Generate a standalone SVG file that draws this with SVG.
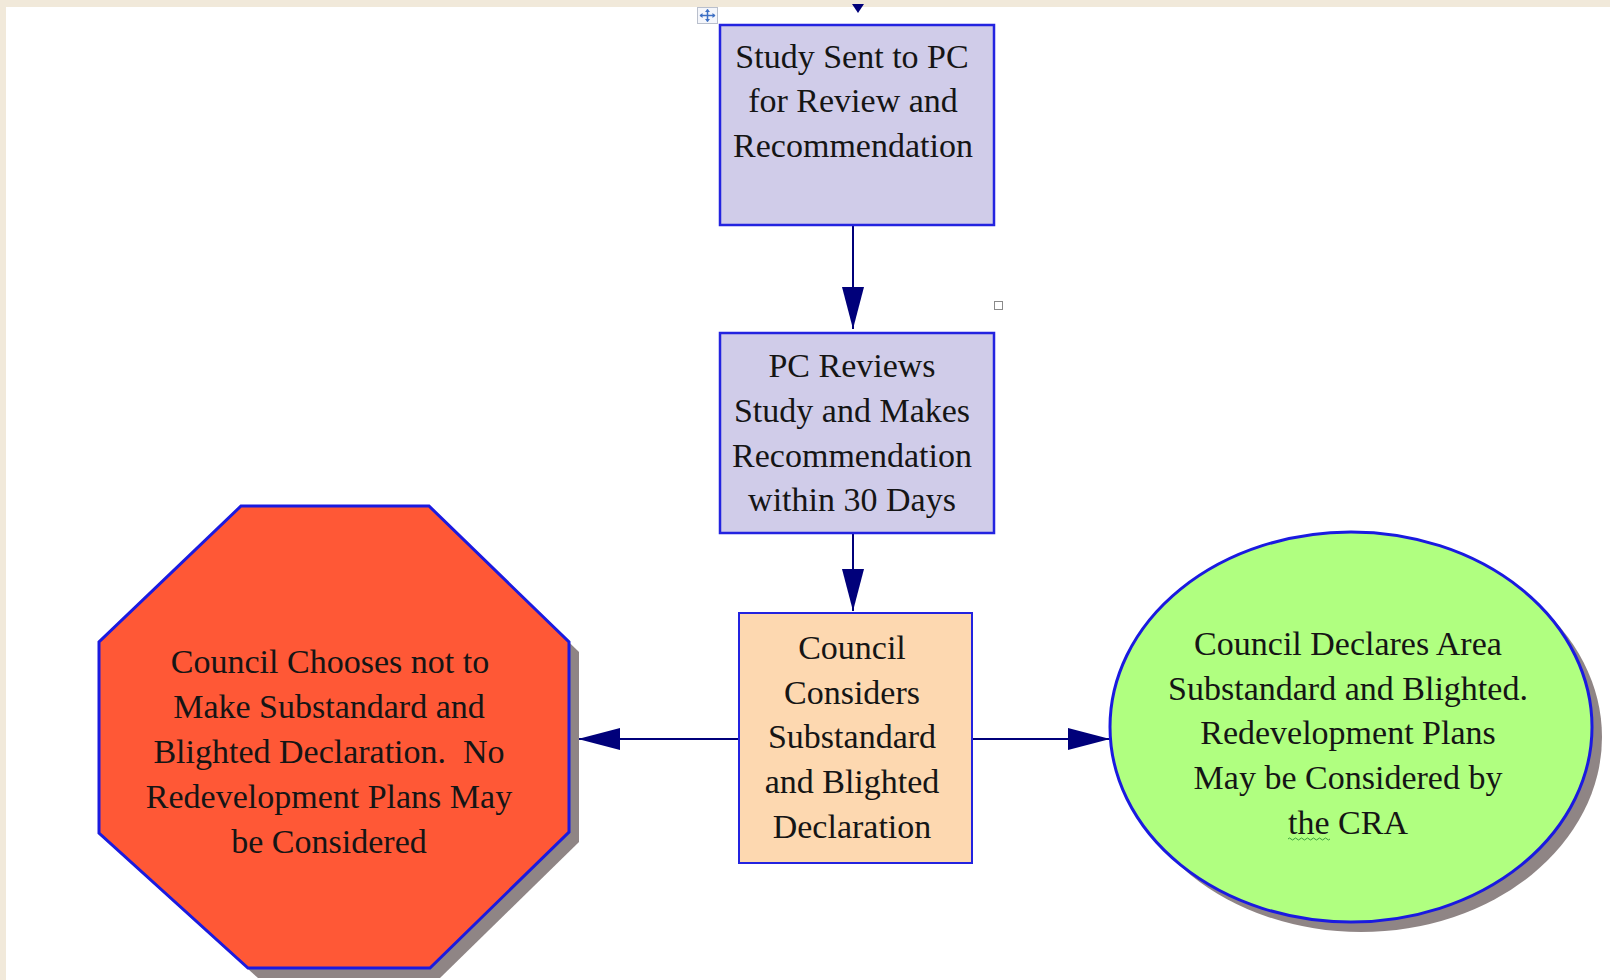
<svg xmlns="http://www.w3.org/2000/svg" width="1610" height="980" viewBox="0 0 1610 980">
<style>
.lbl{font-family:"Liberation Serif","Times New Roman",serif;font-size:34px;fill:#151515;text-anchor:middle}
.box{fill:#d0cce9;stroke:#2323e0;stroke-width:2.5}
.conn{stroke:#00007a;stroke-width:2;fill:none}
.shadow{fill:#8f8585}
</style>
<defs>
<marker id="ah" viewBox="0 0 42 22" refX="42" refY="11" markerWidth="42" markerHeight="22" markerUnits="userSpaceOnUse" orient="auto">
<path d="M0,0 L42,11 L0,22 Z" fill="#00007a"/>
</marker>
</defs>
<rect x="0" y="0" width="1610" height="980" fill="#ffffff"/>
<rect x="0" y="0" width="1610" height="7" fill="#f1e9da"/>
<rect x="0" y="0" width="6" height="980" fill="#f1e9da"/>

<g id="connectors">
<path d="M852,4 L864,4 L858,13 Z" fill="#00007a"/>
<line class="conn" x1="853" y1="225" x2="853" y2="329" marker-end="url(#ah)"/>
<line class="conn" x1="853" y1="533" x2="853" y2="611" marker-end="url(#ah)"/>
<line class="conn" x1="739" y1="739" x2="578" y2="739" marker-end="url(#ah)"/>
<line class="conn" x1="972" y1="739" x2="1110" y2="739" marker-end="url(#ah)"/>
</g>

<g id="handle">
<rect x="697.5" y="7.5" width="20" height="16" fill="#f4f6fb" stroke="#b9bfcc" stroke-width="1"/>
<path d="M707.5,9.5 L707.5,21.5 M700,15.5 L715,15.5" stroke="#3c6fc4" stroke-width="1.5"/>
<path d="M707.5,9 L705,12 L710,12 Z M707.5,22 L705,19 L710,19 Z M699.5,15.5 L702.5,13 L702.5,18 Z M715.5,15.5 L712.5,13 L712.5,18 Z" fill="#3c6fc4"/>
<rect x="994.5" y="301.5" width="8" height="8" fill="#ffffff" stroke="#8a8a8a" stroke-width="1"/>
</g>

<g id="node-study-sent">
<rect class="box" x="720" y="25" width="274" height="200"/>
<text class="lbl"><tspan x="852" y="68">Study Sent to PC</tspan><tspan x="853" y="112">for Review and</tspan><tspan x="853" y="157">Recommendation</tspan></text>
</g>

<g id="node-pc-reviews">
<rect class="box" x="720" y="333" width="274" height="200"/>
<text class="lbl"><tspan x="852" y="377">PC Reviews</tspan><tspan x="852" y="422">Study and Makes</tspan><tspan x="852" y="467">Recommendation</tspan><tspan x="852" y="511">within 30 Days</tspan></text>
</g>

<g id="node-council-considers">
<rect x="739" y="613" width="233" height="250" fill="#fdd8b0" stroke="#2323e0" stroke-width="2"/>
<text class="lbl"><tspan x="852" y="659">Council</tspan><tspan x="852" y="704">Considers</tspan><tspan x="852" y="748">Substandard</tspan><tspan x="852" y="793">and Blighted</tspan><tspan x="852" y="838">Declaration</tspan></text>
</g>

<g id="node-no-declaration">
<polygon class="shadow" points="251,516 439,516 579,652 579,842 440,978 258,978 109,843 109,652"/>
<polygon points="241,506 429,506 569,642 569,832 430,968 248,968 99,833 99,642" fill="#ff5836" stroke="#1a1ae0" stroke-width="3"/>
<text class="lbl"><tspan x="330" y="673">Council Chooses not to</tspan><tspan x="329" y="718">Make Substandard and</tspan><tspan x="329" y="763">Blighted Declaration.&#160; No</tspan><tspan x="329" y="808">Redevelopment Plans May</tspan><tspan x="329" y="853">be Considered</tspan></text>
</g>

<g id="node-declares">
<ellipse class="shadow" cx="1361" cy="737" rx="241" ry="195"/>
<ellipse cx="1351" cy="727" rx="241" ry="195" fill="#b0ff80" stroke="#1a1ae0" stroke-width="3"/>
<text class="lbl"><tspan x="1348" y="655">Council Declares Area</tspan><tspan x="1348" y="700">Substandard and Blighted.</tspan><tspan x="1348" y="744">Redevelopment Plans</tspan><tspan x="1348" y="789">May be Considered by</tspan><tspan x="1348" y="834">the CRA</tspan></text>
<path d="M1288,839 q1.5,-2 3,0 t3,0 t3,0 t3,0 t3,0 t3,0 t3,0 t3,0 t3,0 t3,0 t3,0 t3,0 t3,0 t3,0" stroke="#3aa03a" stroke-width="1" fill="none"/>
</g>
</svg>
